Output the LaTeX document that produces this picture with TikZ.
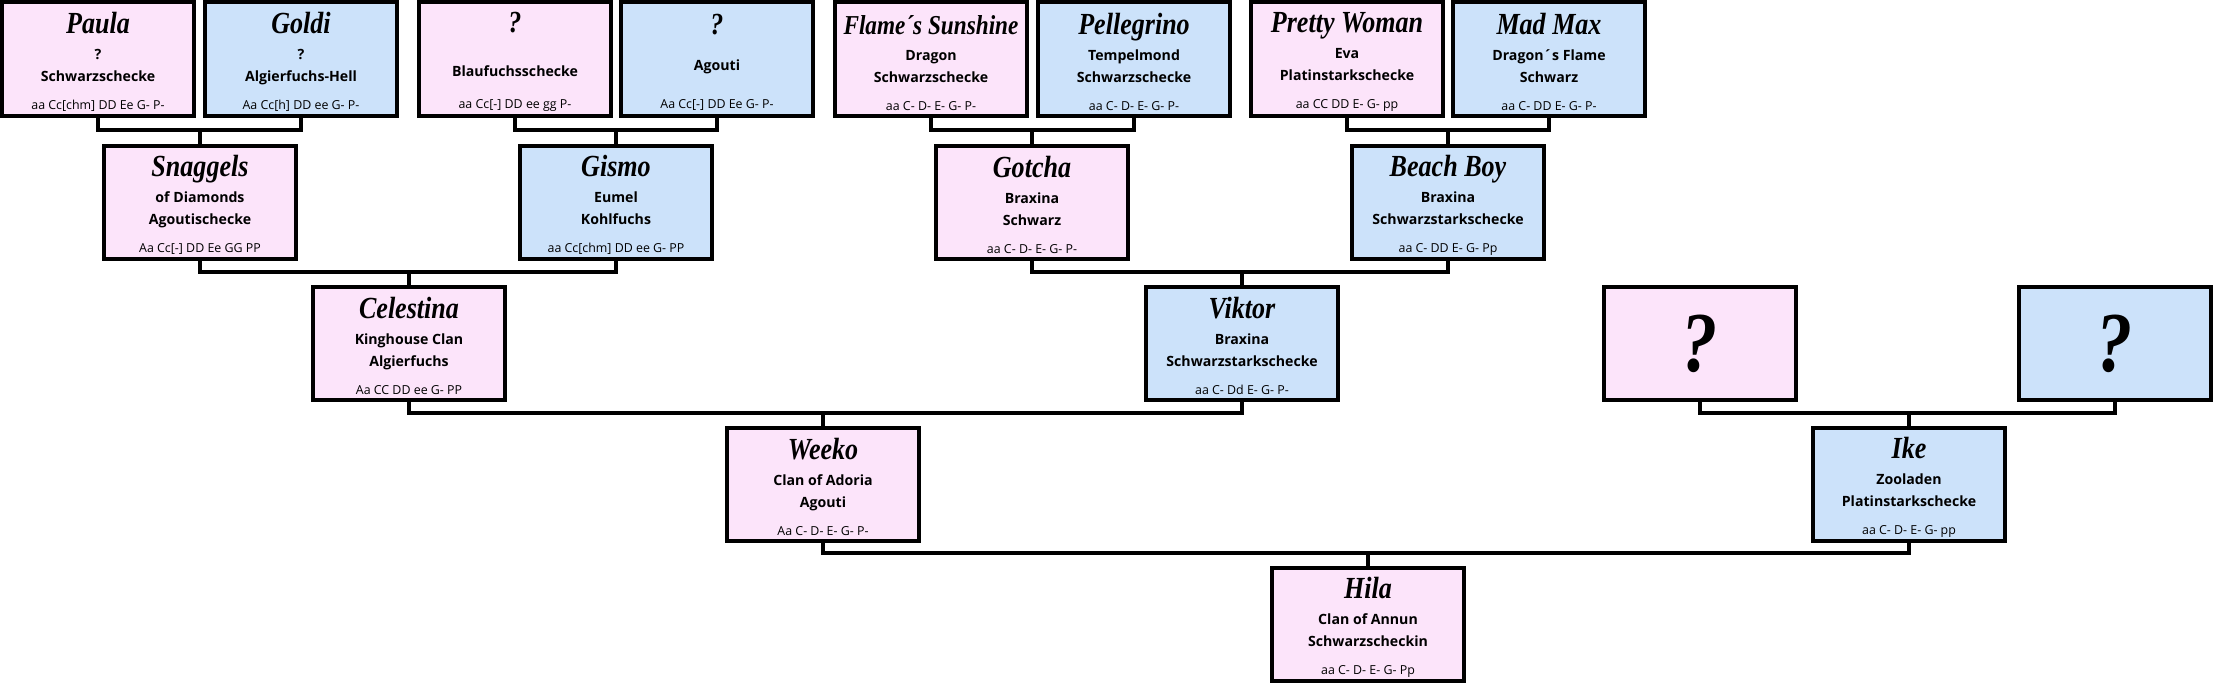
\documentclass[tikz,border=0pt]{standalone}
\usepackage{fontspec}
\setmainfont{Open Sans}
\newfontfamily\namefont{Liberation Serif}[FakeStretch=0.85]
\usepackage{tikz}

\definecolor{ratpink}{RGB}{252,228,250}
\definecolor{ratblue}{RGB}{204,226,250}
\newcommand{\rname}[1]{{\namefont\bfseries\itshape\fontsize{23}{24}\selectfont\rule{0pt}{20pt}#1}}
\newcommand{\rgeno}[1]{{\mdseries\fontsize{9.3}{10}\selectfont #1}}

\begin{document}
\begin{tikzpicture}[x=0.75pt,y=-0.75pt,
    rat/.style={draw,line width=3pt,minimum width=144pt,minimum height=85pt,inner sep=0pt,
      align=center,font=\bfseries\fontsize{10.6}{16.5}\selectfont},
    doe/.style={rat,fill=ratpink},
    buck/.style={rat,fill=ratblue},
    link/.style={line width=2.6pt},
    bigq/.style={font=\namefont\bfseries\itshape\fontsize{64}{64}\selectfont}]
  \useasboundingbox (0,0) rectangle (2215,684);
  % great-grandparents
  \node[doe](paula)at(98,59){\rname{Paula}\\[3pt]?\\Schwarzschecke\\[4.5pt]\rgeno{aa Cc[chm] DD Ee G- P-}};
  \node[buck](goldi)at(301,59){\rname{Goldi}\\[3pt]?\\Algierfuchs-Hell\\[4.5pt]\rgeno{Aa Cc[h] DD ee G- P-}};
  \node[doe](unka)at(515,59){\rname{?}\\[16pt]Blaufuchsschecke\\[8pt]\rgeno{aa Cc[-] DD ee gg P-}};
  \node[buck](unkb)at(717,59){\rname{?}\\[11pt]Agouti\\[12pt]\rgeno{Aa Cc[-] DD Ee G- P-}};
  \node[doe](flame)at(931,59){{\namefont\bfseries\itshape\fontsize{20.5}{22}\selectfont\rule{0pt}{20pt}Flame\textasciiacute s Sunshine}\\[3pt]Dragon\\Schwarzschecke\\[4.5pt]\rgeno{aa C- D- E- G- P-}};
  \node[buck](pelle)at(1134,59){\rname{Pellegrino}\\[3pt]Tempelmond\\Schwarzschecke\\[4.5pt]\rgeno{aa C- D- E- G- P-}};
  \node[doe](pretty)at(1347,59){\rname{Pretty Woman}\\[3pt]Eva\\Platinstarkschecke\\[4.5pt]\rgeno{aa CC DD E- G- pp}};
  \node[buck](madmax)at(1549,59){\rname{Mad Max}\\[3pt]Dragon\textasciiacute s Flame\\Schwarz\\[4.5pt]\rgeno{aa C- DD E- G- P-}};
  % grandparents
  \node[doe](snaggels)at(200,202.5){\rname{Snaggels}\\[3pt]of Diamonds\\Agoutischecke\\[4.5pt]\rgeno{Aa Cc[-] DD Ee GG PP}};
  \node[buck](gismo)at(616,202.5){\rname{Gismo}\\[3pt]Eumel\\Kohlfuchs\\[4.5pt]\rgeno{aa Cc[chm] DD ee G- PP}};
  \node[doe](gotcha)at(1032,202.5){\rname{Gotcha}\\[3pt]Braxina\\Schwarz\\[4.5pt]\rgeno{aa C- D- E- G- P-}};
  \node[buck](beachboy)at(1448,202.5){\rname{Beach Boy}\\[3pt]Braxina\\Schwarzstarkschecke\\[4.5pt]\rgeno{aa C- DD E- G- Pp}};
  % parents of the parents
  \node[doe](celestina)at(409,343.5){\rname{Celestina}\\[3pt]Kinghouse Clan\\Algierfuchs\\[4.5pt]\rgeno{Aa CC DD ee G- PP}};
  \node[buck](viktor)at(1242,343.5){\rname{Viktor}\\[3pt]Braxina\\Schwarzstarkschecke\\[4.5pt]\rgeno{aa C- Dd E- G- P-}};
  \node[doe,bigq](unkc)at(1700,343.5){?};
  \node[buck,bigq](unkd)at(2115,343.5){?};
  % parents
  \node[doe](weeko)at(823,484.5){\rname{Weeko}\\[3pt]Clan of Adoria\\Agouti\\[4.5pt]\rgeno{Aa C- D- E- G- P-}};
  \node[buck](ike)at(1909,484.5){\rname{Ike}\\[3pt]Zooladen\\Platinstarkschecke\\[4.5pt]\rgeno{aa C- D- E- G- pp}};
  \node[doe](hila)at(1368,624.5){\rname{Hila}\\[3pt]Clan of Annun\\Schwarzscheckin\\[4.5pt]\rgeno{aa C- D- E- G- Pp}};
  % lines
  \draw[link] (snaggels.north) -- ++(0,-14) coordinate(j1) (paula.south) |- (j1) -| (goldi.south);
  \draw[link] (gismo.north) -- ++(0,-14) coordinate(j2) (unka.south) |- (j2) -| (unkb.south);
  \draw[link] (gotcha.north) -- ++(0,-14) coordinate(j3) (flame.south) |- (j3) -| (pelle.south);
  \draw[link] (beachboy.north) -- ++(0,-14) coordinate(j4) (pretty.south) |- (j4) -| (madmax.south);
  \draw[link] (celestina.north) -- ++(0,-13) coordinate(j5) (snaggels.south) |- (j5) -| (gismo.south);
  \draw[link] (viktor.north) -- ++(0,-13) coordinate(j6) (gotcha.south) |- (j6) -| (beachboy.south);
  \draw[link] (weeko.north) -- ++(0,-13) coordinate(j7) (celestina.south) |- (j7) -| (viktor.south);
  \draw[link] (ike.north) -- ++(0,-13) coordinate(j8) (unkc.south) |- (j8) -| (unkd.south);
  \draw[link] (hila.north) -- ++(0,-13) coordinate(j9) (weeko.south) |- (j9) -| (ike.south);
\end{tikzpicture}
\end{document}
